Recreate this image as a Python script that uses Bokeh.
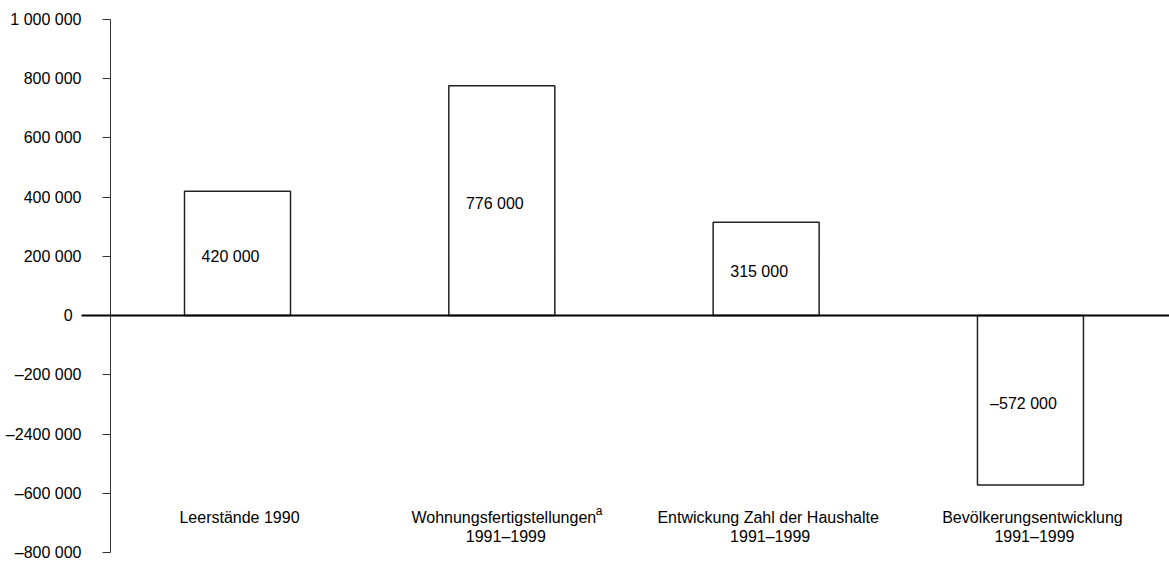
from bokeh.plotting import figure
from bokeh.models import Range1d, FixedTicker, Span, ColumnDataSource
from bokeh.core.properties import value
from bokeh.embed import file_html
from bokeh.resources import INLINE

# ---- data ----
categories = ["Leerstände 1990", "Wohnungsfertigstellungen", "Entwickung Zahl der Haushalte", "Bevölkerungsentwicklung"]
periods = ["", "1991–1999", "1991–1999", "1991–1999"]
footnote = ["", "a", "", ""]
values = [420000, 776000, 315000, -572000]
tick_values = [-800000, -600000, -400000, -200000, 0, 200000, 400000, 600000, 800000, 1000000]
tick_labels = ["–800 000", "–600 000", "–2400 000", "–200 000", "0\u00a0\u00a0",
               "200 000", "400 000", "600 000", "800 000", "1 000 000"]


def fmt(v):
    s = f"{abs(v):,}".replace(",", " ")
    return ("–" + s) if v < 0 else s


FONT = "Liberation Sans"
idx = list(range(len(categories)))

src = ColumnDataSource(dict(
    x=idx,
    top=values,
    mid=[v / 2 for v in values],
    vlabel=[fmt(v) for v in values],
    cat=categories,
    per=periods,
    foot=footnote,
))

p = figure(width=1169, height=562, output_backend="svg", toolbar_location=None,
           x_range=Range1d(-0.4805, 3.526), y_range=Range1d(-800000, 1000000),
           min_border_left=110, min_border_right=0, min_border_top=19, min_border_bottom=10)
p.outline_line_color = None
p.xgrid.visible = False
p.ygrid.visible = False
p.xaxis.visible = False
p.background_fill_color = "white"
p.border_fill_color = "white"

yax = p.yaxis[0]
yax.ticker = FixedTicker(ticks=tick_values, minor_ticks=[0])
yax.major_label_overrides = {t: l for t, l in zip(tick_values, tick_labels)}
yax.major_tick_out = 8
yax.major_tick_in = 0
yax.minor_tick_out = 29
yax.minor_tick_in = 0
yax.minor_tick_line_width = 2
yax.minor_tick_line_color = "black"
yax.major_tick_line_color = "#333333"
yax.axis_line_color = "#333333"
yax.major_label_standoff = 0
yax.major_label_text_font = FONT
yax.major_label_text_font_size = "16px"
yax.major_label_text_color = "black"

p.vbar(x="x", top="top", bottom=0, width=0.401, source=src,
       fill_color="white", line_color="#222222", line_width=1.5)

p.add_layout(Span(location=0, dimension="width", line_color="black", line_width=2))

p.text(x="x", y="mid", text="vlabel", source=src, x_offset=-7, y_offset=3,
       text_align="center", text_baseline="middle",
       text_font=value(FONT), text_font_size="16px", text_color="black")

label_y = -682000
p.text(x="x", y=label_y, text="cat", source=src, x_offset=2,
       text_align="center", text_baseline="middle",
       text_font=value(FONT), text_font_size="16px", text_color="black")
p.text(x="x", y=label_y, text="per", source=src, y_offset=19, x_offset=4,
       text_align="center", text_baseline="middle",
       text_font=value(FONT), text_font_size="16px", text_color="black")
p.text(x="x", y=label_y, text="foot", source=src, x_offset=94, y_offset=-7,
       text_align="left", text_baseline="middle",
       text_font=value(FONT), text_font_size="12px", text_color="black")

open("out.html", "w").write(file_html(p, INLINE))
